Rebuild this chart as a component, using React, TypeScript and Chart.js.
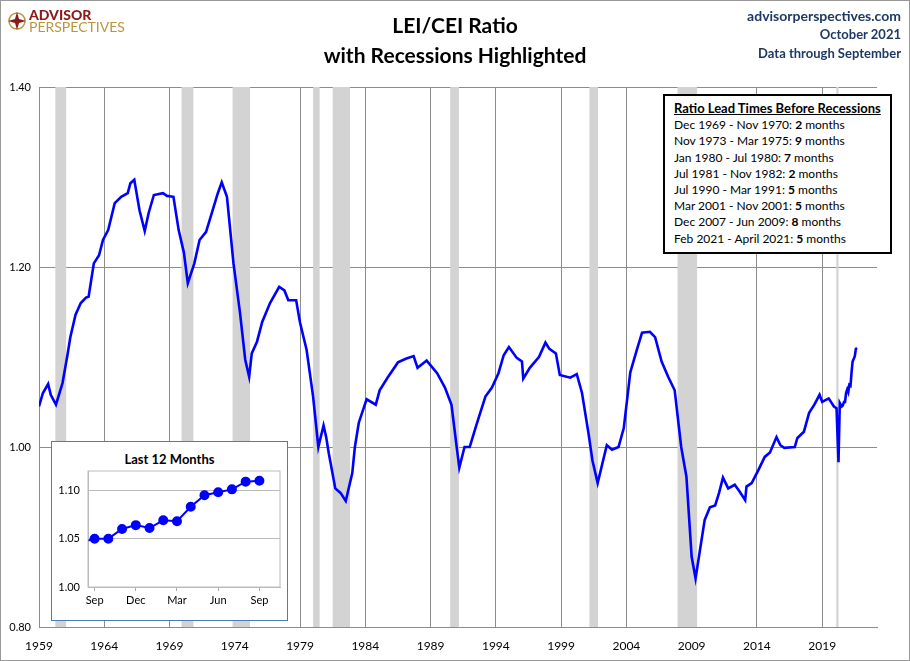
import React, { useEffect, useRef } from "react";
import { Chart, registerables } from "chart.js";
Chart.register(...registerables);

// Main series: [decimal year, LEI/CEI ratio]
const mainYears = [1959.0,1959.3,1959.7,1959.9,1960.3,1960.8,1961.2,1961.4,1961.8,1962.2,1962.6,1962.8,1963.2,1963.6,1963.9,1964.3,1964.8,1965.3,1965.8,1966.0,1966.3,1966.7,1967.1,1967.4,1967.8,1968.5,1968.8,1969.3,1969.7,1970.1,1970.4,1970.9,1971.3,1971.8,1972.3,1972.7,1973.0,1973.4,1973.9,1974.4,1974.8,1975.1,1975.3,1975.7,1976.1,1976.7,1977.4,1977.8,1978.1,1978.7,1979.0,1979.5,1980.0,1980.4,1980.8,1981.0,1981.2,1981.7,1982.1,1982.5,1983.0,1983.2,1983.5,1984.1,1984.8,1985.1,1985.7,1986.5,1987.1,1987.7,1988.0,1988.7,1989.5,1990.1,1990.6,1991.0,1991.2,1991.6,1992.0,1992.5,1993.2,1993.7,1994.2,1994.6,1995.0,1995.6,1996.0,1996.1,1996.6,1997.3,1997.8,1998.1,1998.6,1998.9,1999.7,2000.2,2000.6,2001.1,2001.4,2001.8,2002.5,2002.9,2003.4,2003.8,2004.3,2004.8,2005.2,2005.8,2006.2,2006.7,2007.2,2007.7,2008.2,2008.6,2009.0,2009.3,2009.6,2010.0,2010.4,2010.8,2011.1,2011.4,2011.8,2012.3,2012.7,2013.1,2013.2,2013.6,2014.1,2014.6,2015.0,2015.5,2015.8,2016.1,2016.9,2017.1,2017.6,2018.0,2018.4,2018.8,2019.0,2019.5,2019.9,2020.1,2020.25,2020.35,2020.5,2020.58,2020.67,2020.75,2020.83,2020.92,2021.0,2021.08,2021.17,2021.25,2021.33,2021.42,2021.5,2021.58,2021.67];
const mainValues = [1.045,1.060,1.070,1.058,1.047,1.071,1.104,1.122,1.147,1.160,1.166,1.167,1.204,1.213,1.230,1.241,1.271,1.278,1.282,1.293,1.297,1.263,1.240,1.260,1.280,1.282,1.279,1.278,1.241,1.216,1.182,1.204,1.230,1.239,1.263,1.282,1.294,1.278,1.204,1.149,1.097,1.078,1.104,1.117,1.139,1.160,1.178,1.174,1.163,1.163,1.138,1.108,1.056,1.000,1.024,1.011,0.993,0.954,0.949,0.940,0.971,1.000,1.027,1.053,1.047,1.063,1.077,1.094,1.098,1.101,1.088,1.096,1.082,1.066,1.047,1.000,0.977,1.000,1.000,1.024,1.056,1.066,1.082,1.102,1.111,1.099,1.095,1.076,1.088,1.100,1.116,1.109,1.104,1.080,1.077,1.081,1.060,1.015,0.985,0.960,1.002,0.997,1.000,1.021,1.083,1.108,1.127,1.128,1.122,1.095,1.078,1.063,1.000,0.967,0.878,0.854,0.882,0.919,0.933,0.935,0.949,0.966,0.954,0.958,0.950,0.941,0.956,0.960,0.974,0.989,0.994,1.011,1.002,0.999,1.000,1.010,1.017,1.038,1.047,1.058,1.050,1.054,1.045,1.043,0.983,1.049,1.045,1.046,1.050,1.050,1.060,1.064,1.061,1.069,1.068,1.083,1.095,1.098,1.101,1.109,1.110];

const recessionStarts = [1960.25,1969.92,1973.83,1980.0,1981.5,1990.5,2001.17,2007.92,2020.08];
const recessionEnds = [1961.08,1970.83,1975.17,1980.5,1982.83,1991.17,2001.83,2009.42,2020.25];
const yearTicks = [1959,1964,1969,1974,1979,1984,1989,1994,1999,2004,2009,2014,2019];
const yTicks = [0.8,1.0,1.2,1.4];

// Inset: Aug 2020 (lead-in) then Sep 2020 .. Sep 2021
const insetIndex = [-1,0,1,2,3,4,5,6,7,8,9,10,11,12];
const insetValues = [1.046,1.050,1.050,1.060,1.064,1.061,1.069,1.068,1.083,1.095,1.098,1.101,1.109,1.110];
const insetTickIdx = [0,3,6,9,12];
const insetTickLabels = ["Sep","Dec","Mar","Jun","Sep"];
const insetYTicks = [1.0,1.05,1.1];

const legendRows: [string,string,string][] = [
  ["Dec 1969 - Nov 1970: ","2"," months"],
  ["Nov 1973 - Mar 1975: ","9"," months"],
  ["Jan 1980 - Jul 1980: ","7"," months"],
  ["Jul 1981 - Nov 1982: ","2"," months"],
  ["Jul 1990 - Mar 1991: ","5"," months"],
  ["Mar 2001 - Nov 2001: ","5"," months"],
  ["Dec 2007 - Jun 2009: ","8"," months"],
  ["Feb 2021 - April 2021: ","5"," months"],
];

const FONT = "Lato, 'Open Sans', sans-serif";

const shadePlugin = {
  id: "shade",
  beforeDatasetsDraw(chart: any) {
    const { ctx, chartArea, scales } = chart;
    ctx.save();
    ctx.fillStyle = "#d3d3d3";
    recessionStarts.forEach((s, i) => {
      const x1 = scales.x.getPixelForValue(s);
      const x2 = scales.x.getPixelForValue(recessionEnds[i]);
      ctx.fillRect(x1, chartArea.top, x2 - x1, chartArea.bottom - chartArea.top);
    });
    ctx.restore();
  },
};

export default function App() {
  const mainRef = useRef<HTMLCanvasElement>(null);
  const insetRef = useRef<HTMLCanvasElement>(null);

  useEffect(() => {
    document.body.style.margin = "0";
    const main = new Chart(mainRef.current!, {
      type: "line",
      data: {
        datasets: [{
          data: mainYears.map((x, i) => ({ x, y: mainValues[i] })),
          borderColor: "#0000ff",
          borderWidth: 2.6,
          pointRadius: 0,
          tension: 0,
        }],
      },
      options: {
        animation: false,
        responsive: false,
        layout: { padding: { top: 86, right: 32, left: 0, bottom: 0 } },
        plugins: { legend: { display: false }, tooltip: { enabled: false } },
        scales: {
          x: {
            type: "linear", min: 1959, max: 2023.2,
            afterBuildTicks: (s: any) => { s.ticks = yearTicks.map(v => ({ value: v })); },
            afterFit: (s: any) => { s.height = 33; },
            grid: { color: "#8c8c8c", drawTicks: false, lineWidth: 1 },
            border: { color: "#8c8c8c" },
            ticks: { color: "#000", font: { family: FONT, size: 12 }, padding: 12, maxRotation: 0, callback: (v: any) => String(v) },
          },
          y: {
            min: 0.8, max: 1.4,
            afterBuildTicks: (s: any) => { s.ticks = yTicks.map(v => ({ value: v })); },
            afterFit: (s: any) => { s.width = 38; },
            grid: { color: "#8c8c8c", drawTicks: false },
            border: { color: "#8c8c8c" },
            ticks: { color: "#000", font: { family: FONT, size: 11 }, padding: 8, callback: (v: any) => Number(v).toFixed(2) },
          },
        },
      },
      plugins: [shadePlugin],
    });

    const inset = new Chart(insetRef.current!, {
      type: "line",
      data: {
        datasets: [{
          data: insetIndex.map((x, i) => ({ x, y: insetValues[i] })),
          borderColor: "#0000ff",
          backgroundColor: "#0000ff",
          borderWidth: 2,
          pointRadius: insetIndex.map(i => (i < 0 ? 0 : 4)),
          tension: 0,
        }],
      },
      options: {
        animation: false,
        responsive: false,
        layout: { padding: { top: 29, right: 7, left: 0, bottom: 0 } },
        plugins: { legend: { display: false }, tooltip: { enabled: false } },
        scales: {
          x: {
            type: "linear", min: -0.48, max: 13.5,
            afterBuildTicks: (s: any) => { s.ticks = insetTickIdx.map(v => ({ value: v })); },
            afterFit: (s: any) => { s.height = 33; },
            grid: { display: true, drawOnChartArea: false, color: "#aaa", tickLength: 4 },
            border: { color: "#bbb" },
            ticks: { color: "#000", font: { family: FONT, size: 11 }, padding: 3, maxRotation: 0,
              callback: (v: any) => insetTickLabels[insetTickIdx.indexOf(Number(v))] ?? "" },
          },
          y: {
            min: 1.0, max: 1.12,
            afterBuildTicks: (s: any) => { s.ticks = insetYTicks.map(v => ({ value: v })); },
            afterFit: (s: any) => { s.width = 36; },
            grid: { color: "#bbb", drawTicks: false },
            border: { color: "#bbb" },
            ticks: { color: "#000", font: { family: FONT, size: 11 }, padding: 8, callback: (v: any) => Number(v).toFixed(2) },
          },
        },
      },
      plugins: [{
        id: "box",
        afterDraw(c: any) {
          const { ctx, chartArea: a } = c;
          ctx.save(); ctx.strokeStyle = "#bbb"; ctx.lineWidth = 1;
          ctx.strokeRect(a.left, a.top, a.right - a.left, a.bottom - a.top);
          ctx.restore();
        },
      }],
    });
    return () => { main.destroy(); inset.destroy(); };
  }, []);

  return (
    <div style={{ position: "relative", width: 910, height: 661, boxSizing: "border-box", border: "1px solid #999", background: "#fff", fontFamily: FONT, overflow: "hidden" }}>
      <canvas ref={mainRef} width={908} height={659} style={{ position: "absolute", left: 0, top: 0 }} />
      {/* logo */}
      <div style={{ position: "absolute", left: 6, top: 8, display: "flex", alignItems: "center" }}>
        <svg width="20" height="20" viewBox="0 0 20 20">
          <circle cx="10" cy="10" r="8" fill="none" stroke="#b8963c" strokeWidth="1.5" />
          <polygon points="10,1 12,8 19,10 12,12 10,19 8,12 1,10 8,8" fill="#8b1a1a" />
        </svg>
        <div style={{ marginLeft: 2, lineHeight: "12px" }}>
          <div style={{ color: "#8b1a1a", fontWeight: 900, fontSize: 14 }}>ADVISOR</div>
          <div style={{ color: "#b8963c", fontSize: 14 }}>PERSPECTIVES</div>
        </div>
      </div>
      <div style={{ position: "absolute", left: 0, width: 908, top: 9, textAlign: "center", fontWeight: 700, fontSize: 21, lineHeight: "30px", color: "#000" }}>
        LEI/CEI Ratio<br />with Recessions Highlighted
      </div>
      <div style={{ position: "absolute", right: 8, top: 5, textAlign: "right", fontWeight: 700, fontSize: 13, lineHeight: "19px", color: "#1f3864" }}>
        <div style={{ fontSize: 14 }}>advisorperspectives.com</div>
        <div>October 2021</div>
        <div>Data through September</div>
      </div>
      {/* legend box */}
      <div style={{ position: "absolute", left: 662, top: 93, width: 229, height: 160, boxSizing: "border-box", border: "2px solid #000", background: "#fff", padding: "4px 0 0 9px", fontSize: 12, lineHeight: "16.2px", color: "#000" }}>
        <div style={{ fontWeight: 700, fontSize: 13, textDecoration: "underline", marginBottom: 1 }}>Ratio Lead Times Before Recessions</div>
        {legendRows.map((r, i) => (
          <div key={i} style={{ whiteSpace: "nowrap" }}>{r[0]}<b>{r[1]}</b>{r[2]}</div>
        ))}
      </div>
      {/* inset */}
      <div style={{ position: "absolute", left: 50, top: 440, width: 237, height: 180, boxSizing: "border-box", border: "1px solid #4a7ebb", background: "#fff" }}>
        <div style={{ position: "absolute", left: 0, width: 235, top: 9, textAlign: "center", fontWeight: 700, fontSize: 13 }}>Last 12 Months</div>
        <canvas ref={insetRef} width={235} height={178} style={{ position: "absolute", left: 0, top: 0 }} />
      </div>
    </div>
  );
}
